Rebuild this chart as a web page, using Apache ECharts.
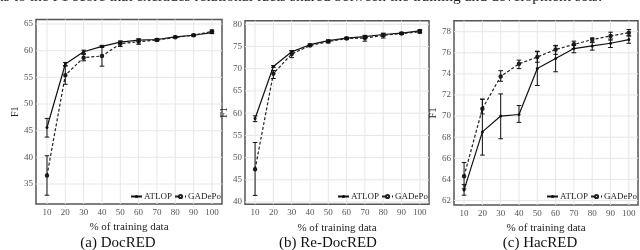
<!DOCTYPE html>
<html><head><meta charset="utf-8">
<script src="https://cdn.jsdelivr.net/npm/echarts@6/dist/echarts.min.js"></script>
<style>html,body{margin:0;padding:0;background:#fff}#c{width:640px;height:250px}</style>
</head><body><div id="c"></div>
<script>
// ---- data ----
const xValues = [10, 20, 30, 40, 50, 60, 70, 80, 90, 100];
const xTicks = [10, 20, 30, 40, 50, 60, 70, 80, 90, 100];

const atlopA    = [45.6, 57.5, 59.8, 60.8, 61.6, 62.0, 62.1, 62.6, 62.9, 63.4];
const atlopA_lo = [43.8, 57.2, 59.5, 60.6, 61.4, 61.8, 61.9, 62.5, 62.8, 63.2];
const atlopA_hi = [47.3, 57.8, 60.1, 61.0, 61.8, 62.2, 62.3, 62.7, 63.0, 63.6];
const gadA      = [36.6, 55.4, 58.7, 59.0, 61.3, 61.7, 62.0, 62.5, 62.9, 63.6];
const gadA_lo   = [32.9, 53.7, 58.1, 57.1, 60.8, 61.2, 61.8, 62.4, 62.7, 63.3];
const gadA_hi   = [40.3, 57.1, 59.3, 60.9, 61.8, 62.2, 62.2, 62.7, 63.1, 63.9];
const yTicksA   = [35, 40, 45, 50, 55, 60, 65];

const atlopB    = [58.8, 70.5, 73.8, 75.4, 76.3, 76.9, 77.2, 77.7, 78.0, 78.5];
const atlopB_lo = [58.1, 70.3, 73.5, 75.2, 76.1, 76.7, 76.9, 77.3, 77.8, 78.2];
const atlopB_hi = [59.4, 70.7, 74.1, 75.6, 76.5, 77.1, 77.5, 78.0, 78.2, 78.8];
const gadB      = [47.4, 68.9, 73.3, 75.2, 76.1, 76.8, 76.9, 77.5, 77.9, 78.3];
const gadB_lo   = [41.5, 67.8, 72.5, 75.0, 75.8, 76.6, 76.2, 76.9, 77.7, 78.0];
const gadB_hi   = [53.4, 69.6, 74.0, 75.4, 76.4, 77.0, 77.4, 77.9, 78.1, 78.6];
const yTicksB   = [40, 45, 50, 55, 60, 65, 70, 75, 80];

const atlopC    = [63.0, 68.5, 70.0, 70.15, 74.5, 75.45, 76.4, 76.65, 76.9, 77.25];
const atlopC_lo = [62.5, 66.3, 67.85, 69.4, 72.9, 74.2, 76.0, 76.25, 76.5, 76.9];
const atlopC_hi = [63.5, 71.6, 72.1, 71.0, 76.1, 76.7, 76.7, 77.0, 77.3, 77.6];
const gadC      = [64.3, 70.7, 73.75, 74.95, 75.6, 76.3, 76.8, 77.25, 77.6, 77.9];
const gadC_lo   = [63.1, 70.2, 73.3, 74.5, 75.1, 75.85, 76.4, 77.0, 77.2, 77.6];
const gadC_hi   = [65.6, 71.6, 74.3, 75.3, 76.15, 76.65, 77.1, 77.4, 77.95, 78.2];
const yTicksC   = [62, 64, 66, 68, 70, 72, 74, 76, 78];

const captions = ['(a) DocRED', '(b) Re-DocRED', '(c) HacRED'];
const topText = 'ns to the F1 score that excludes relational facts shared between the training and development sets.';
const seriesNames = ['ATLOP', 'GADePo'];

// ---- layout ----
const FONT = '"Liberation Serif", "DejaVu Serif", serif';
const panels = [
  {grid:{left:36, top:19.5, width:186, height:184.5}, xr:[4, 105.5], yr:[31.25, 65.85], yt:yTicksA,
   a:atlopA, alo:atlopA_lo, ahi:atlopA_hi, g:gadA, glo:gadA_lo, ghi:gadA_hi, nameGap:9, capX:118},
  {grid:{left:245, top:20.7, width:184, height:183.6}, xr:[4.5, 105], yr:[39.5, 80.8], yt:yTicksB,
   a:atlopB, alo:atlopB_lo, ahi:atlopB_hi, g:gadB, glo:gadB_lo, ghi:gadB_hi, nameGap:8, capX:328},
  {grid:{left:454, top:20.7, width:184, height:184.3}, xr:[4.5, 105], yr:[61.57, 79.04], yt:yTicksC,
   a:atlopC, alo:atlopC_lo, ahi:atlopC_hi, g:gadC, glo:gadC_lo, ghi:gadC_hi, nameGap:8, capX:540}
];

function errItem(params, api) {
  const x = api.value(0), lo = api.value(1), hi = api.value(2);
  const pLo = api.coord([x, lo]), pHi = api.coord([x, hi]);
  const hw = 2.3;
  const style = {stroke: '#111', lineWidth: 1};
  return {type: 'group', children: [
    {type: 'line', shape: {x1: pLo[0], y1: pLo[1], x2: pHi[0], y2: pHi[1]}, style},
    {type: 'line', shape: {x1: pLo[0] - hw, y1: pLo[1], x2: pLo[0] + hw, y2: pLo[1]}, style},
    {type: 'line', shape: {x1: pHi[0] - hw, y1: pHi[1], x2: pHi[0] + hw, y2: pHi[1]}, style}
  ]};
}
function gridItem(params, api) {
  const cs = params.coordSys;
  const kind = api.value(0), v = api.value(1);
  const style = {stroke: '#e6e6e6', lineWidth: 1};
  if (kind === 0) {
    const px = api.coord([v, 0])[0];
    return {type: 'line', shape: {x1: px, y1: cs.y, x2: px, y2: cs.y + cs.height}, style};
  } else {
    const py = api.coord([0, v])[1];
    return {type: 'line', shape: {x1: cs.x, y1: py, x2: cs.x + cs.width, y2: py}, style};
  }
}

const option = {
  animation: false,
  backgroundColor: '#fff',
  grid: [], xAxis: [], yAxis: [], series: [], legend: [], graphic: []
};

panels.forEach((p, i) => {
  option.grid.push(Object.assign({show: true, borderColor: '#555', borderWidth: 1.5, backgroundColor: 'transparent', containLabel: false}, p.grid));
  option.xAxis.push({
    type: 'value', gridIndex: i, min: p.xr[0], max: p.xr[1],
    name: '% of training data', nameLocation: 'middle', nameGap: 9,
    nameTextStyle: {fontFamily: FONT, fontSize: 11, color: '#222'},
    axisLine: {show: false}, axisTick: {show: false}, splitLine: {show: false},
    axisLabel: {customValues: xTicks, fontFamily: FONT, fontSize: 9, color: '#555', margin: 4}
  });
  option.yAxis.push({
    type: 'value', gridIndex: i, min: p.yr[0], max: p.yr[1],
    name: 'F1', nameLocation: 'middle', nameGap: p.nameGap,
    nameTextStyle: {fontFamily: FONT, fontSize: 10, color: '#222'},
    axisLine: {show: false}, axisTick: {show: false}, splitLine: {show: false},
    axisLabel: {customValues: p.yt, fontFamily: FONT, fontSize: 9, color: '#555', margin: 3}
  });
  const gl = xTicks.map(v => [0, v]).concat(p.yt.map(v => [1, v]));
  option.series.push({type: 'custom', name: 'grid' + i, xAxisIndex: i, yAxisIndex: i, z: 0, silent: true,
    renderItem: gridItem, data: gl, encode: {x: -1, y: -1}});
  option.series.push({type: 'line', name: seriesNames[0], xAxisIndex: i, yAxisIndex: i, z: 3,
    data: xValues.map((x, k) => [x, p.a[k]]),
    symbol: 'circle', symbolSize: 3, showSymbol: true,
    lineStyle: {color: '#111', width: 1.2, type: 'solid'}, itemStyle: {color: '#111'}});
  option.series.push({type: 'line', name: seriesNames[1], xAxisIndex: i, yAxisIndex: i, z: 3,
    data: xValues.map((x, k) => [x, p.g[k]]),
    symbol: 'emptyCircle', symbolSize: 2.5, showSymbol: true,
    lineStyle: {color: '#222', width: 1.2, type: [3, 2]}, itemStyle: {color: '#222', borderWidth: 1}});
  option.series.push({type: 'custom', name: 'errA' + i, xAxisIndex: i, yAxisIndex: i, z: 4, silent: true,
    renderItem: errItem, data: xValues.map((x, k) => [x, p.alo[k], p.ahi[k]]), encode: {x: 0, y: [1, 2]}});
  option.series.push({type: 'custom', name: 'errG' + i, xAxisIndex: i, yAxisIndex: i, z: 4, silent: true,
    renderItem: errItem, data: xValues.map((x, k) => [x, p.glo[k], p.ghi[k]]), encode: {x: 0, y: [1, 2]}});
  option.legend.push({
    data: seriesNames, right: 640 - (p.grid.left + p.grid.width) + 1, top: 192, padding: 0, itemGap: 2,
    itemWidth: 11, itemHeight: 4, selectedMode: false, orient: 'horizontal',
    textStyle: {fontFamily: FONT, fontSize: 9, color: '#222', padding: [0, 0, 0, -3]}
  });
  option.graphic.push({type: 'text', x: p.capX, y: 243,
    style: {text: captions[i], fontFamily: FONT, fontSize: 15, fill: '#111', textAlign: 'center', textVerticalAlign: 'middle'}});
});
option.graphic.push({type: 'text', x: -4, y: -11,
  style: {text: topText, fontFamily: FONT, fontSize: 15.5, fill: '#222'}});

const chart = echarts.init(document.getElementById('c'), null, {renderer: 'canvas'});
chart.setOption(option);
</script>
</body></html>
